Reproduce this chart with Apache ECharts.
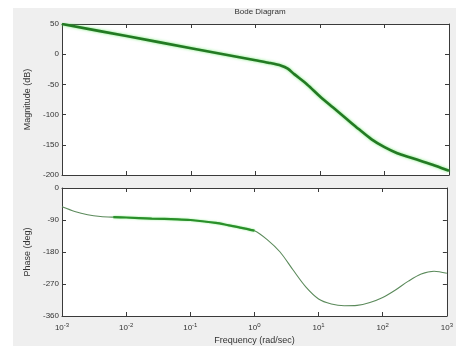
<!DOCTYPE html>
<html>
<head>
<meta charset="utf-8">
<script src="https://cdn.jsdelivr.net/npm/echarts@6/dist/echarts.min.js"></script>
<style>
  html, body { margin: 0; padding: 0; background: #fff; }
  #chart { width: 456px; height: 346px; }
</style>
</head>
<body>
<div id="chart"></div>
<script>
// frequencies in rad/s
const magFreq = [0.001, 0.01, 0.1, 0.316, 1, 1.58, 2.51, 3.16, 3.98, 6.31, 10, 15.8, 25.1, 39.8, 63.1, 100, 158, 251, 398, 631, 1000];
const magDb = [50, 30, 10, 0, -10, -14, -19, -24, -33, -50, -70, -88, -106, -124, -141, -154, -164, -171, -178, -185, -193];

const phaseFreq = [0.001, 0.00158, 0.00251, 0.00398, 0.00631, 0.01, 0.0251, 0.0631, 0.1, 0.251, 0.398, 0.631, 1, 1.58, 2.51, 3.98, 6.31, 10, 15.8, 25.1, 39.8, 63.1, 100, 158, 251, 398, 631, 1000];
const phaseDeg = [-53, -66, -75, -80, -82, -83, -86, -88, -90, -98, -105, -112, -120, -145, -180, -230, -278, -312, -326, -331, -330, -322, -308, -287, -262, -242, -234, -240];

const xTickExps = [-3, -2, -1, 0, 1, 2, 3];
const magTicks = [50, 0, -50, -100, -150, -200];
const phaseTicks = [0, -90, -180, -270, -360];

const font = "Liberation Sans";
const axisColor = "#3a3a3a";
const textColor = "#333";

const pairs = (xs, ys) => xs.map((x, i) => [x, ys[i]]);
const boldPhase = pairs(phaseFreq, phaseDeg).filter((p) => p[0] >= 0.004 && p[0] <= 1);

function xLabel(value) {
  const e = Math.round(Math.log10(value));
  return xTickExps.includes(e) ? "10{sup|" + e + "}" : "";
}

const logAxis = (gridIndex, extra) => ({
  type: "log",
  logBase: 10,
  gridIndex,
  min: 0.001,
  max: 1000,
  interval: 1,
  axisLine: { onZero: false, lineStyle: { color: axisColor, width: 1 } },
  axisTick: { inside: true, length: 4, lineStyle: { color: axisColor } },
  splitLine: { show: false },
  axisLabel: { show: false },
  ...extra,
});

const valAxis = (gridIndex, min, max, interval, extra) => ({
  type: "value",
  gridIndex,
  min,
  max,
  interval,
  axisLine: { show: true, onZero: false, lineStyle: { color: axisColor, width: 1 } },
  axisTick: { show: true, inside: true, length: 4, lineStyle: { color: axisColor } },
  splitLine: { show: false },
  axisLabel: { show: false },
  ...extra,
});

const yLabelStyle = { show: true, color: textColor, fontFamily: font, fontSize: 8, margin: 3 };
const nameStyle = { fontFamily: font, fontSize: 9, color: textColor };

const chart = echarts.init(document.getElementById("chart"), null, { renderer: "canvas" });
chart.setOption({
  animation: false,
  backgroundColor: "#fff",
  graphic: [
    { type: "rect", z: -10, shape: { x: 13, y: 8, width: 443, height: 338 }, style: { fill: "#efefef" } },
  ],
  title: {
    text: "Bode Diagram",
    left: 255,
    top: 3,
    textAlign: "center",
    textStyle: { fontFamily: font, fontSize: 8, fontWeight: "normal", color: textColor },
  },
  grid: [
    { left: 62, top: 24, width: 387, height: 151, show: true, backgroundColor: "#fff", borderWidth: 0 },
    { left: 62, top: 188, width: 387, height: 134, show: true, backgroundColor: "#fff", borderWidth: 0 },
  ],
  xAxis: [
    logAxis(0, { position: "bottom" }),
    logAxis(0, { position: "top" }),
    logAxis(1, {
      position: "bottom",
      axisLabel: {
        show: true,
        formatter: xLabel,
        color: textColor,
        fontFamily: font,
        fontSize: 8,
        margin: 6,
        rich: { sup: { fontSize: 6, verticalAlign: "top", padding: [0, 0, 5, 0], color: textColor, fontFamily: font } },
      },
      name: "Frequency (rad/sec)",
      nameLocation: "middle",
      nameGap: 20,
      nameTextStyle: nameStyle,
    }),
    logAxis(1, { position: "top" }),
  ],
  yAxis: [
    valAxis(0, -200, 50, 50, {
      position: "left",
      axisLabel: { ...yLabelStyle, formatter: (v) => (magTicks.includes(v) ? String(v) : "") },
      name: "Magnitude (dB)",
      nameLocation: "middle",
      nameGap: 26,
      nameTextStyle: nameStyle,
    }),
    valAxis(0, -200, 50, 50, { position: "right" }),
    valAxis(1, -360, 0, 90, {
      position: "left",
      axisLabel: { ...yLabelStyle, formatter: (v) => (phaseTicks.includes(v) ? String(v) : "") },
      name: "Phase (deg)",
      nameLocation: "middle",
      nameGap: 27,
      nameTextStyle: nameStyle,
    }),
    valAxis(1, -360, 0, 90, { position: "right" }),
  ],
  series: [
    {
      name: "Magnitude",
      type: "line",
      xAxisIndex: 0,
      yAxisIndex: 0,
      smooth: 0.3,
      showSymbol: false,
      data: pairs(magFreq, magDb),
      lineStyle: { color: "#237a23", width: 2.6, shadowColor: "rgba(90,230,90,0.8)", shadowBlur: 3 },
    },
    {
      name: "Phase",
      type: "line",
      xAxisIndex: 2,
      yAxisIndex: 2,
      smooth: 0.3,
      showSymbol: false,
      data: pairs(phaseFreq, phaseDeg),
      lineStyle: { color: "#5b8a5b", width: 1.1 },
    },
    {
      name: "Phase bold",
      type: "line",
      xAxisIndex: 2,
      yAxisIndex: 2,
      smooth: 0.3,
      showSymbol: false,
      data: boldPhase,
      lineStyle: { color: "#2a8f2a", width: 2.2, shadowColor: "rgba(90,230,90,0.7)", shadowBlur: 2 },
    },
  ],
});
</script>
</body>
</html>
